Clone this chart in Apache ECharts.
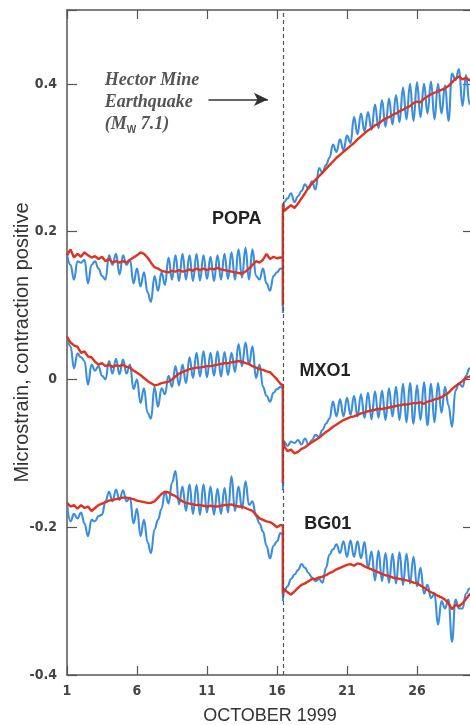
<!DOCTYPE html>
<html><head><meta charset="utf-8">
<script src="https://cdn.jsdelivr.net/npm/echarts@6/dist/echarts.min.js"></script>
<style>html,body{margin:0;padding:0;background:#fff;overflow:hidden}#c{width:470px;height:725px}</style>
</head><body><div id="c"></div>
<script>
// ---- sampling (days in October 1999) ----
const startDay = 1;          // Oct 1
const sampleStep = 0.25;     // days between samples
const quakeDay = 16.42;      // Hector Mine earthquake
const postFirstDay = 16.5;
const dayTicks = [1, 6, 11, 16, 21, 26];

// ---- POPA ----
const popaBluePre = [0.17,0.155,0.135,0.16,0.158,0.162,0.13,0.155,0.16,0.15,0.14,0.135,0.168,0.155,0.17,0.142,0.168,0.155,0.162,0.13,0.15,0.126,0.145,0.118,0.105,0.14,0.12,0.145,0.128,0.165,0.135,0.168,0.133,0.17,0.135,0.168,0.133,0.17,0.134,0.168,0.136,0.166,0.133,0.168,0.135,0.17,0.136,0.172,0.135,0.176,0.138,0.178,0.135,0.176,0.14,0.135,0.15,0.13,0.12,0.14,0.145,0.15];
const popaBlueQuake = [0.15, 0.09, 0.225];
const popaBluePost = [0.24,0.245,0.252,0.24,0.248,0.255,0.264,0.258,0.268,0.257,0.286,0.28,0.29,0.3,0.318,0.308,0.325,0.31,0.33,0.32,0.355,0.332,0.36,0.336,0.362,0.338,0.372,0.34,0.378,0.342,0.38,0.345,0.385,0.348,0.395,0.352,0.4,0.35,0.402,0.355,0.4,0.36,0.403,0.352,0.4,0.36,0.398,0.35,0.414,0.405,0.42,0.37,0.412,0.373,0.4];
const popaRedPre = [0.168,0.176,0.165,0.17,0.166,0.172,0.168,0.165,0.167,0.163,0.166,0.16,0.163,0.158,0.16,0.158,0.16,0.158,0.162,0.165,0.168,0.172,0.17,0.165,0.158,0.152,0.15,0.147,0.146,0.145,0.147,0.146,0.148,0.146,0.147,0.149,0.147,0.15,0.148,0.15,0.148,0.15,0.149,0.151,0.149,0.148,0.147,0.146,0.145,0.144,0.143,0.146,0.15,0.155,0.16,0.158,0.162,0.17,0.163,0.166,0.164,0.165];
const popaRedQuake = [0.165, 0.1, 0.238];
const popaRedPost = [0.228,0.232,0.236,0.232,0.238,0.245,0.252,0.26,0.265,0.27,0.275,0.28,0.285,0.29,0.295,0.3,0.304,0.308,0.312,0.316,0.32,0.325,0.329,0.333,0.337,0.34,0.344,0.346,0.35,0.353,0.355,0.358,0.36,0.363,0.365,0.368,0.37,0.374,0.376,0.375,0.38,0.383,0.386,0.388,0.39,0.392,0.394,0.397,0.402,0.407,0.41,0.406,0.408,0.405,0.403];

// ---- MXO1 ----
const mxoBluePre = [0.058,0.045,0.015,0.035,0.03,0.025,-0.007,0.02,0.012,0.018,0.005,0.0,0.025,0.008,0.028,0.007,0.027,0.008,0.02,-0.013,0.0,-0.032,-0.012,-0.045,-0.053,-0.01,-0.037,-0.012,-0.02,0.005,-0.01,0.018,-0.008,0.02,-0.005,0.03,0.002,0.036,0.004,0.038,0.003,0.036,0.005,0.038,0.004,0.037,0.006,0.036,0.01,0.048,0.018,0.05,0.02,0.045,0.002,0.02,-0.01,-0.022,-0.03,-0.018,-0.013,-0.01];
const mxoBlueQuake = [-0.012, -0.15, -0.095];
const mxoBluePost = [-0.084,-0.09,-0.084,-0.086,-0.082,-0.088,-0.08,-0.088,-0.082,-0.075,-0.078,-0.068,-0.06,-0.053,-0.03,-0.05,-0.027,-0.05,-0.025,-0.048,-0.022,-0.05,-0.02,-0.052,-0.018,-0.054,-0.016,-0.052,-0.015,-0.055,-0.012,-0.05,-0.01,-0.055,-0.006,-0.058,-0.005,-0.06,-0.008,-0.055,-0.004,-0.062,-0.006,-0.058,-0.005,-0.045,-0.01,-0.035,-0.064,-0.015,-0.005,-0.01,0.005,0.015,0.005];
const mxoRedPre = [0.058,0.05,0.046,0.044,0.036,0.038,0.031,0.03,0.024,0.02,0.022,0.018,0.02,0.017,0.019,0.018,0.02,0.017,0.016,0.012,0.009,0.006,0.002,-0.002,-0.005,-0.008,-0.007,-0.005,-0.004,-0.003,0.0,0.004,0.008,0.01,0.012,0.014,0.015,0.016,0.016,0.017,0.018,0.018,0.019,0.02,0.021,0.022,0.022,0.023,0.024,0.025,0.024,0.022,0.021,0.018,0.016,0.014,0.013,0.011,0.01,0.005,0.0,-0.006];
const mxoRedQuake = [-0.008, -0.14, -0.08];
const mxoRedPost = [-0.09,-0.097,-0.095,-0.1,-0.098,-0.094,-0.092,-0.088,-0.085,-0.082,-0.079,-0.075,-0.071,-0.068,-0.064,-0.061,-0.058,-0.055,-0.053,-0.051,-0.05,-0.048,-0.046,-0.045,-0.043,-0.042,-0.041,-0.04,-0.04,-0.039,-0.038,-0.037,-0.036,-0.035,-0.034,-0.034,-0.033,-0.032,-0.032,-0.031,-0.033,-0.03,-0.029,-0.027,-0.026,-0.024,-0.021,-0.018,-0.013,-0.009,-0.006,-0.002,0.002,0.004,0.003];

// ---- BG01 ----
const bgBluePre = [-0.167,-0.192,-0.182,-0.188,-0.18,-0.195,-0.212,-0.19,-0.192,-0.185,-0.183,-0.165,-0.152,-0.165,-0.149,-0.163,-0.15,-0.165,-0.16,-0.195,-0.175,-0.212,-0.19,-0.22,-0.235,-0.203,-0.19,-0.175,-0.152,-0.168,-0.14,-0.124,-0.169,-0.145,-0.178,-0.142,-0.182,-0.143,-0.183,-0.142,-0.18,-0.145,-0.183,-0.148,-0.182,-0.147,-0.18,-0.131,-0.178,-0.145,-0.175,-0.138,-0.17,-0.165,-0.185,-0.195,-0.206,-0.225,-0.242,-0.225,-0.219,-0.208];
const bgBlueQuake = [-0.21, -0.3, -0.295];
const bgBluePost = [-0.287,-0.28,-0.27,-0.264,-0.258,-0.25,-0.255,-0.262,-0.268,-0.273,-0.27,-0.275,-0.255,-0.237,-0.23,-0.223,-0.235,-0.219,-0.24,-0.218,-0.24,-0.219,-0.242,-0.22,-0.255,-0.233,-0.272,-0.232,-0.273,-0.235,-0.275,-0.236,-0.276,-0.234,-0.278,-0.236,-0.276,-0.24,-0.28,-0.255,-0.29,-0.278,-0.296,-0.29,-0.332,-0.3,-0.31,-0.298,-0.355,-0.298,-0.31,-0.31,-0.29,-0.283,-0.275];
const bgRedPre = [-0.167,-0.172,-0.17,-0.175,-0.17,-0.174,-0.172,-0.178,-0.174,-0.17,-0.168,-0.166,-0.164,-0.163,-0.162,-0.161,-0.16,-0.16,-0.161,-0.162,-0.164,-0.165,-0.166,-0.167,-0.167,-0.165,-0.16,-0.155,-0.152,-0.153,-0.156,-0.158,-0.162,-0.165,-0.167,-0.168,-0.169,-0.17,-0.17,-0.171,-0.172,-0.171,-0.172,-0.172,-0.171,-0.17,-0.17,-0.169,-0.171,-0.172,-0.172,-0.174,-0.176,-0.178,-0.183,-0.188,-0.19,-0.192,-0.193,-0.196,-0.2,-0.197];
const bgRedQuake = [-0.198, -0.29, -0.283];
const bgRedPost = [-0.285,-0.288,-0.291,-0.287,-0.282,-0.278,-0.276,-0.273,-0.27,-0.27,-0.268,-0.267,-0.265,-0.262,-0.26,-0.257,-0.255,-0.253,-0.251,-0.25,-0.252,-0.249,-0.25,-0.253,-0.255,-0.257,-0.259,-0.261,-0.263,-0.265,-0.266,-0.268,-0.269,-0.27,-0.271,-0.272,-0.273,-0.275,-0.276,-0.279,-0.282,-0.285,-0.288,-0.29,-0.293,-0.295,-0.298,-0.303,-0.311,-0.305,-0.307,-0.303,-0.297,-0.291,-0.288];

const stationNames = ['POPA', 'MXO1', 'BG01'];

// ---- build series (x = days since Oct 1) ----
function build(pre, quake, post) {
  const pts = pre.map((v, i) => [i * sampleStep, v]);
  quake.forEach(v => pts.push([quakeDay - startDay, v]));
  post.forEach((v, i) => pts.push([postFirstDay - startDay + i * sampleStep, v]));
  return pts;
}
const BLUE = '#3b8edb', RED = '#e2321f', AX = '#555';
const blueSets = [[popaBluePre, popaBlueQuake, popaBluePost],[mxoBluePre, mxoBlueQuake, mxoBluePost],[bgBluePre, bgBlueQuake, bgBluePost]];
const redSets = [[popaRedPre, popaRedQuake, popaRedPost],[mxoRedPre, mxoRedQuake, mxoRedPost],[bgRedPre, bgRedQuake, bgRedPost]];

const series = [];
blueSets.forEach((s, k) => series.push({
  type: 'line', name: stationNames[k] + ' raw', data: build(...s), showSymbol: false, z: 2,
  smooth: 0.45, smoothMonotone: 'x',
  lineStyle: { color: BLUE, width: 2.1 }, itemStyle: { color: BLUE }
}));
redSets.forEach((s, k) => series.push({
  type: 'line', name: stationNames[k] + ' corrected', data: build(...s), showSymbol: false, z: 3,
  lineStyle: { color: RED, width: 2.4 }, itemStyle: { color: RED }
}));
// dashed event line and arrow
series[0].markLine = {
  silent: true, symbol: 'none', animation: false, label: { show: false },
  lineStyle: { color: '#555', type: [4, 3], width: 1.2 },
  data: [{ xAxis: quakeDay - startDay }]
};
series.push({
  type: 'line', data: [], silent: true,
  markLine: {
    silent: true, animation: false, symbol: ['none', 'arrow'], symbolSize: [10, 14],
    label: { show: false }, lineStyle: { color: '#333', type: 'solid', width: 1.5 },
    data: [[{ coord: [10.1, 0.379] }, { coord: [14.35, 0.379] }]]
  }
});

const tickFont = { color: '#444', fontSize: 14, fontWeight: 'bold', fontFamily: '"Liberation Sans Narrow","DejaVu Sans Condensed","Liberation Sans",Arial,sans-serif' };
const chart = echarts.init(document.getElementById('c'), null, { renderer: 'canvas' });
chart.setOption({
  animation: false,
  grid: { left: 67, right: -3, top: 10, bottom: 50, containLabel: false, outerBoundsMode: 'none' },
  xAxis: [{
    type: 'value', min: 0, max: 29, interval: 5, position: 'bottom',
    name: 'OCTOBER 1999', nameLocation: 'middle', nameGap: 32, nameMoveOverlap: false,
    nameTextStyle: { color: '#333', fontSize: 18, fontFamily: '"Liberation Sans",Arial,sans-serif' },
    axisLine: { onZero: false, lineStyle: { color: AX, width: 1.5 } },
    axisTick: { inside: true, length: 9, lineStyle: { color: AX, width: 1.2 } },
    axisLabel: Object.assign({ margin: 9, formatter: v => (dayTicks.indexOf(v + startDay) >= 0 ? String(v + startDay) : '') }, tickFont),
    splitLine: { show: false }
  }, {
    type: 'value', min: 0, max: 29, interval: 5, position: 'top',
    axisLine: { onZero: false, lineStyle: { color: AX, width: 1.5 } },
    axisTick: { inside: true, length: 9, lineStyle: { color: AX, width: 1.2 } },
    axisLabel: { show: false }, splitLine: { show: false }
  }],
  yAxis: [{
    type: 'value', min: -0.4, max: 0.5, interval: 0.2, position: 'left',
    name: 'Microstrain, contraction positive', nameLocation: 'middle', nameGap: 35, nameMoveOverlap: false,
    nameTextStyle: { color: '#333', fontSize: 20, fontFamily: '"Liberation Sans",Arial,sans-serif' },
    axisLine: { show: true, onZero: false, lineStyle: { color: AX, width: 1.5 } },
    axisTick: { show: true, inside: true, length: 10, lineStyle: { color: AX, width: 1.2 } },
    axisLabel: Object.assign({ margin: 10, formatter: v => (v > 0.45 ? '' : String(+v.toFixed(1))) }, tickFont),
    splitLine: { show: false }
  }, {
    type: 'value', min: -0.4, max: 0.5, interval: 0.2, position: 'right',
    axisLine: { show: true, onZero: false, lineStyle: { color: AX, width: 1.5 } },
    axisTick: { show: true, inside: true, length: 10, lineStyle: { color: AX, width: 1.2 } },
    axisLabel: { show: false }, splitLine: { show: false }
  }],
  series: series
});

// ---- text annotations anchored in data space ----
const labelAnchors = [[10.35, 0.2165], [16.6, 0.011], [16.95, -0.196]];
const annoAnchor = [2.7, 0.42];
const g = [];
labelAnchors.forEach((a, k) => {
  const p = chart.convertToPixel({ xAxisIndex: 0, yAxisIndex: 0 }, a);
  g.push({ type: 'text', x: p[0], y: p[1], style: { text: stationNames[k], fill: '#222', font: 'bold 18px "Liberation Sans", Arial, sans-serif', textVerticalAlign: 'middle' } });
});
const pa = chart.convertToPixel({ xAxisIndex: 0, yAxisIndex: 0 }, annoAnchor);
g.push({
  type: 'text', x: pa[0], y: pa[1],
  style: {
    text: '{a|Hector Mine}\n{a|Earthquake}\n{a|(M}{s|W}{a| 7.1)}',
    rich: {
      a: { fill: '#555', fontFamily: '"Liberation Serif", serif', fontStyle: 'italic', fontWeight: 'bold', fontSize: 18, lineHeight: 22 },
      s: { fill: '#555', fontFamily: '"Liberation Sans", sans-serif', fontWeight: 'bold', fontSize: 10, lineHeight: 22, verticalAlign: 'bottom', padding: [8, 0, 0, 0] }
    }
  }
});
chart.setOption({ graphic: g });
</script>
</body></html>
